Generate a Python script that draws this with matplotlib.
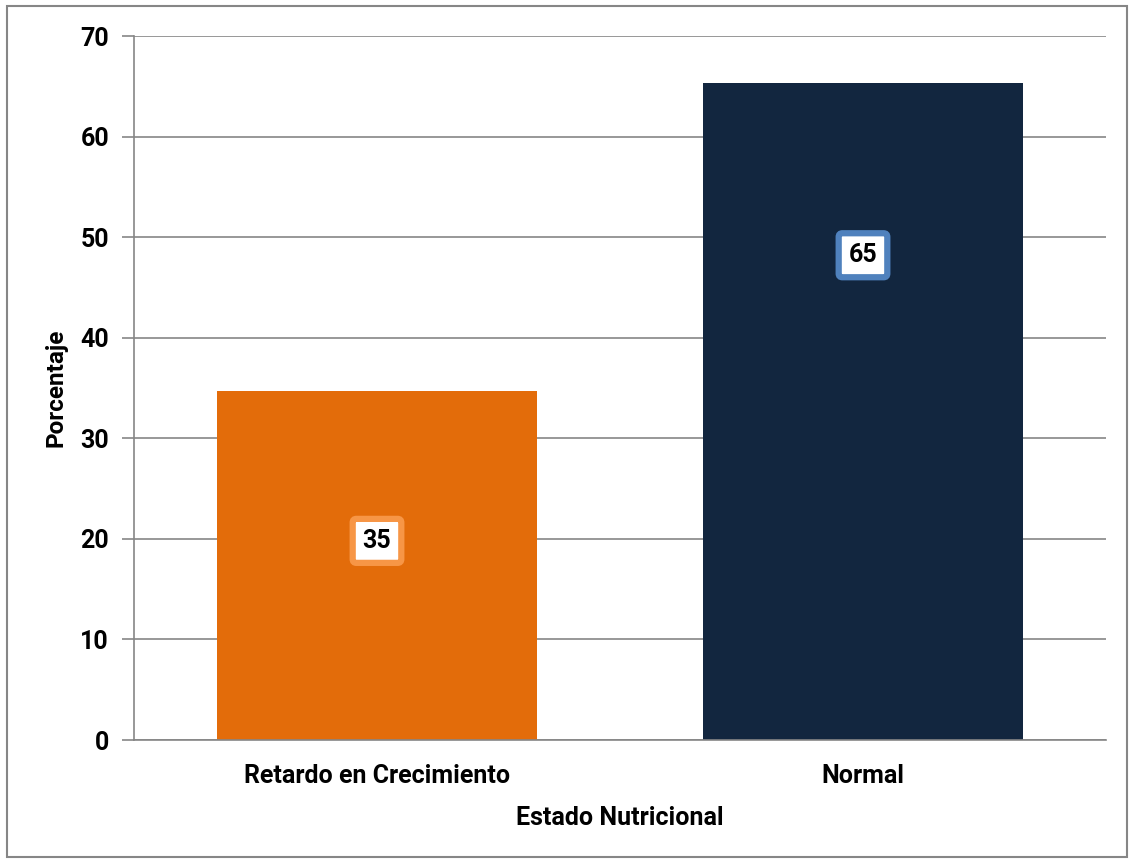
import matplotlib
matplotlib.use("Agg")
import matplotlib.pyplot as plt
from matplotlib.patches import Rectangle

# --- Dados ---
categorias = ["Retardo en Crecimiento", "Normal"]
porcentajes = [34.7, 65.3]
rotulos = ["35", "65"]
rotulo_y = [19.8, 48.2]

cores = ["#E36C0A", "#12263F"]
cores_borda = ["#F79646", "#4F81BD"]

plt.rcParams['font.family'] = ['Roboto', 'DejaVu Sans']
plt.rcParams['font.stretch'] = 'condensed'
plt.rcParams['font.weight'] = 'bold'

fig = plt.figure(figsize=(11.3, 8.63), dpi=100)
ax = fig.add_axes([134 / 1130, 1 - 740 / 863, (1106 - 134) / 1130, (740 - 36) / 863])

x = range(len(categorias))
ax.bar(x, porcentajes, width=0.66, color=cores, zorder=2)

for i, (txt, yy) in enumerate(zip(rotulos, rotulo_y)):
    ax.text(i, yy, txt, ha='center', va='center', fontsize=18, fontweight='bold',
            zorder=3,
            bbox=dict(boxstyle='round,pad=0.4,rounding_size=0.15', fc='white',
                      ec=cores_borda[i], lw=4.5))

ax.set_xlim(-0.5, 1.5)
ax.set_ylim(0, 70)
ax.set_yticks(range(0, 71, 10))
ax.set_xticks(list(x))
ax.set_xticklabels(categorias, fontsize=18, fontweight='bold')
ax.tick_params(axis='y', labelsize=18, length=9, color='#868686', width=1.2, pad=9)
ax.tick_params(axis='x', length=0, pad=17)
for lbl in ax.get_yticklabels():
    lbl.set_fontweight('bold')

ax.grid(axis='y', color='#868686', linewidth=1.2, zorder=0)
ax.set_axisbelow(True)
for s in ['top', 'right']:
    ax.spines[s].set_visible(False)
for s in ['left', 'bottom']:
    ax.spines[s].set_color('#868686')
    ax.spines[s].set_linewidth(1.2)

ax.set_xlabel('Estado Nutricional', fontsize=18, fontweight='bold')
ax.set_ylabel('Porcentaje', fontsize=17.5, fontweight='bold')
ax.xaxis.set_label_coords(0.5, (740 - 818) / 704, transform=ax.transAxes)
ax.yaxis.set_label_coords((56 - 134) / 972, 0.5, transform=ax.transAxes)
ax.xaxis.label.set_va('center')
ax.yaxis.label.set_va('center')

# borda da figura
fig.patches.append(Rectangle((7 / 1130, 1 - 857 / 863), (1127 - 7) / 1130, (857 - 6) / 863,
                             transform=fig.transFigure, fill=False,
                             edgecolor='#868686', linewidth=1.5))

fig.savefig('out.png', dpi=100)
